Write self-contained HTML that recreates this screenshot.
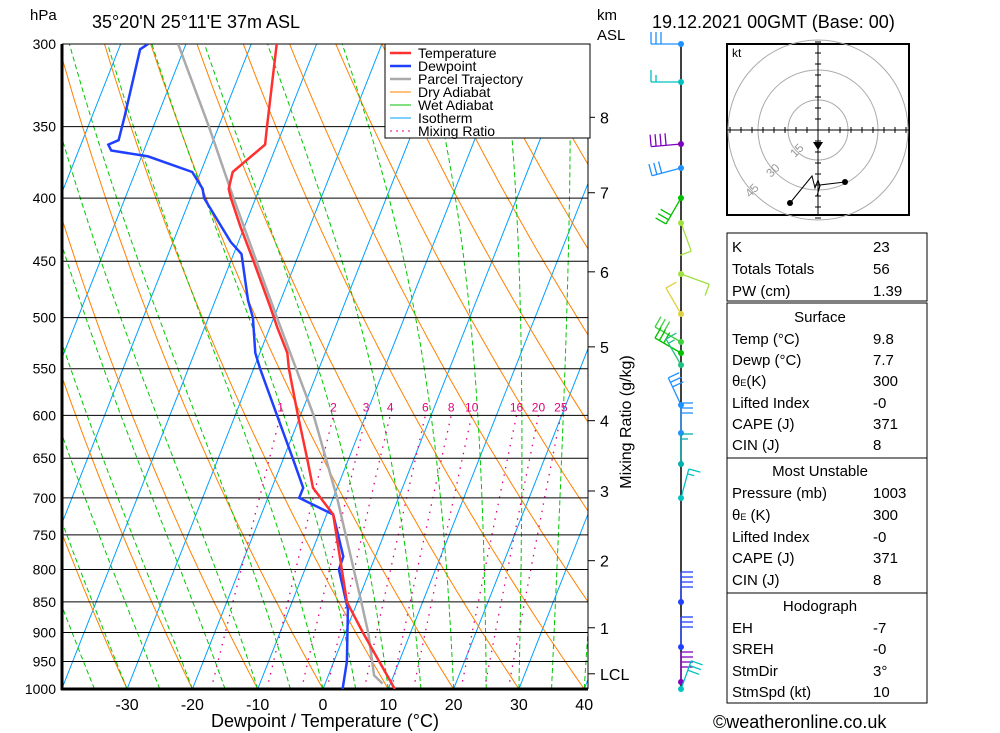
<!DOCTYPE html>
<html><head><meta charset="utf-8"><title>Skew-T</title>
<style>
html,body{margin:0;padding:0;background:#fff;}
svg{display:block;font-family:"Liberation Sans",sans-serif;}
</style></head>
<body>
<svg id="chart" width="1000" height="733" viewBox="0 0 1000 733" xmlns="http://www.w3.org/2000/svg">
<defs><clipPath id="plotclip"><rect x="62" y="44" width="526" height="645"/></clipPath></defs>
<g id="bg" clip-path="url(#plotclip)"></g>
<g id="fg"></g>
<text x="30" y="20" font-size="15">hPa</text>
<text x="92" y="28" font-size="18">35°20'N  25°11'E  37m  ASL</text>
<text x="652" y="28" font-size="18">19.12.2021  00GMT  (Base: 00)</text>
<text x="597" y="20" font-size="15">km</text>
<text x="597" y="40" font-size="15">ASL</text>
<text x="325" y="727" font-size="18" text-anchor="middle">Dewpoint / Temperature (°C)</text>
<text x="631" y="422" font-size="16" text-anchor="middle" transform="rotate(-90 631 422)">Mixing Ratio (g/kg)</text>
<text x="713" y="728" font-size="18">©weatheronline.co.uk</text>
<g>
<rect x="385" y="44" width="205" height="94" fill="#fff" stroke="#000"/>
<g font-size="14">
<line x1="390" y1="53" x2="411" y2="53" stroke="#ff3030" stroke-width="2.5"/><text x="418" y="58">Temperature</text>
<line x1="390" y1="66" x2="411" y2="66" stroke="#2040ff" stroke-width="2.5"/><text x="418" y="71">Dewpoint</text>
<line x1="390" y1="79" x2="411" y2="79" stroke="#aaa" stroke-width="2.5"/><text x="418" y="84">Parcel Trajectory</text>
<line x1="390" y1="92" x2="411" y2="92" stroke="#ff8000"/><text x="418" y="97">Dry Adiabat</text>
<line x1="390" y1="105" x2="411" y2="105" stroke="#00c000"/><text x="418" y="110">Wet Adiabat</text>
<line x1="390" y1="118" x2="411" y2="118" stroke="#00a0ff"/><text x="418" y="123">Isotherm</text>
<line x1="390" y1="131" x2="411" y2="131" stroke="#e0007f" stroke-dasharray="2,4"/><text x="418" y="136">Mixing Ratio</text>
</g></g>
<g>
<rect x="727" y="44" width="182" height="171" fill="#fff" stroke="#000" stroke-width="2"/>
<text x="732" y="57" font-size="12">kt</text>
<g fill="none" stroke="#aaa"><circle cx="818" cy="130" r="30"/><circle cx="818" cy="130" r="60"/><circle cx="818" cy="130" r="90"/></g>
<line x1="727" y1="130" x2="909" y2="130" stroke="#000"/>
<line x1="818" y1="44" x2="818" y2="215" stroke="#000"/>
<g id="hticks"></g>
<g font-size="12" fill="#999"><text x="795" y="158" transform="rotate(-45 795 158)">15</text><text x="771" y="178" transform="rotate(-45 771 178)">30</text><text x="750" y="198" transform="rotate(-45 750 198)">45</text></g>
<polyline points="790,203 812,176 815,188 818,180 820,186 817,196 820,185 845,182" fill="none" stroke="#000"/>
<circle cx="790" cy="203" r="3"/><circle cx="845" cy="182" r="3"/>
<polygon points="813,142 823,142 818,150"/>
</g>
<g font-size="15">
<rect x="727" y="233" width="200" height="68" fill="none" stroke="#000"/>
<rect x="727" y="303" width="200" height="155" fill="none" stroke="#000"/>
<rect x="727" y="458" width="200" height="135" fill="none" stroke="#000"/>
<rect x="727" y="593" width="200" height="110" fill="none" stroke="#000"/>
<text x="732" y="252">K</text><text x="873" y="252">23</text>
<text x="732" y="274">Totals Totals</text><text x="873" y="274">56</text>
<text x="732" y="296">PW (cm)</text><text x="873" y="296">1.39</text>
<text x="820" y="322" text-anchor="middle">Surface</text>
<text x="732" y="344">Temp (°C)</text><text x="873" y="344">9.8</text>
<text x="732" y="365">Dewp (°C)</text><text x="873" y="365">7.7</text>
<text x="732" y="386">θ<tspan font-size="9">E</tspan>(K)</text><text x="873" y="386">300</text>
<text x="732" y="408">Lifted Index</text><text x="873" y="408">-0</text>
<text x="732" y="429">CAPE (J)</text><text x="873" y="429">371</text>
<text x="732" y="450">CIN (J)</text><text x="873" y="450">8</text>
<text x="820" y="476" text-anchor="middle">Most Unstable</text>
<text x="732" y="498">Pressure (mb)</text><text x="873" y="498">1003</text>
<text x="732" y="520">θ<tspan font-size="9">E</tspan> (K)</text><text x="873" y="520">300</text>
<text x="732" y="542">Lifted Index</text><text x="873" y="542">-0</text>
<text x="732" y="563">CAPE (J)</text><text x="873" y="563">371</text>
<text x="732" y="585">CIN (J)</text><text x="873" y="585">8</text>
<text x="820" y="611" text-anchor="middle">Hodograph</text>
<text x="732" y="633">EH</text><text x="873" y="633">-7</text>
<text x="732" y="654">SREH</text><text x="873" y="654">-0</text>
<text x="732" y="676">StmDir</text><text x="873" y="676">3°</text>
<text x="732" y="697">StmSpd (kt)</text><text x="873" y="697">10</text>
</g>
</svg>
<script>
// ---- data ----
const pressureLevels = [300,350,400,450,500,550,600,650,700,750,800,850,900,950,1000];
const tempTicks = [-30,-20,-10,0,10,20,30,40];
const kmLabels = ["8","7","6","5","4","3","2","1","LCL"];
const kmPressures = [344,396,459,528,606,691,787,892,972];
const mixRatios = [1,2,3,4,6,8,10,16,20,25];
const tempP = [1000,900,850,722,687,650,600,550,534,509,490,450,422,400,393,381,362,350,300];
const tempT = [11,2.7,-1.6,-9.0,-13.7,-16.4,-20.4,-24.6,-25.8,-28.9,-31.2,-36.5,-40.6,-43.8,-44.7,-45.1,-41.8,-42.6,-46.1];
const dewP = [1000,950,862,800,781,722,700,687,650,600,550,534,500,484,444,434,400,393,381,370,366,362,359,344,303,300];
const dewT = [3.0,2.0,-1.0,-4.8,-4.9,-9.0,-15.2,-15.2,-18.6,-23.6,-29,-30.7,-33.2,-35,-38.8,-41.2,-47.9,-48.7,-51.3,-59,-65,-65.8,-64.5,-65,-66.7,-65.8];
const parcelP = [990,975,900,850,700,600,500,400,350,300];
const parcelT = [8.8,7.0,3.5,0.6,-9.4,-18,-29.5,-43.4,-51.5,-61.2];
const windY = [44,82,144,168,198,223,274,314,342,353,365,405,433,464,498,602,647,682,689];
const windDir = [270,270,265,255,210,160,110,330,300,300,330,335,0,0,15,0,0,0,20];
const windBarbs = [3,2,4,3,3,1,1,1,3,3,2,3,3,2,2,4,3,4,3];
const windColor = ["#1e90ff","#00c0c0","#8000c0","#1e90ff","#00c000","#a0e040","#a0e040","#e0d040","#40d040","#00c000","#20c080","#1e90ff","#1e90ff","#00b0b0","#00c0c0","#2040ff","#2040ff","#8000c0","#00c0c0"];

// ---- axes ----
const NS="http://www.w3.org/2000/svg";
const Y0=44,Y1=689,PX=6.53,X0=323,SK=0.395;
function yP(p){return Y0+Math.log(p/300)/Math.log(1000/300)*(Y1-Y0);}
function xT(T,p){return X0+PX*T+SK*(Y1-yP(p));}
function mk(tag,attrs,parent){const el=document.createElementNS(NS,tag);for(const k in attrs)el.setAttribute(k,attrs[k]);parent.appendChild(el);return el;}
const bg=document.getElementById('bg'),fg=document.getElementById('fg');
function pathFrom(ps,ts){let d='';for(let i=0;i<ps.length;i++){d+=(i?'L':'M')+xT(ts[i],ps[i]).toFixed(1)+','+yP(ps[i]).toFixed(1);}return d;}

// isotherms
for(let T=-110;T<=40;T+=10){
  const l=mk('line',{x1:xT(T,1000),y1:yP(1000),x2:xT(T,300),y2:yP(300),stroke:'#00a0ff','stroke-width':1},bg);
  
  
}
// dry adiabats
for(let th=-60;th<=120;th+=10){
  const ps=[],ts=[];
  for(let p=1000;p>=300;p-=10){ps.push(p);ts.push((th+273.15)*Math.pow(p/1000,0.286)-273.15);}
  const d1=mk('path',{d:pathFrom(ps,ts),fill:'none',stroke:'#ff8000','stroke-width':1},bg);
  
  
}
// wet adiabats
function esat(T){return 6.112*Math.exp(17.67*T/(T+243.5));}
for(let T0=-40;T0<=40;T0+=5){
  const ps=[],ts=[];let T=T0;
  for(let p=1000;p>=300;p-=5){
    ps.push(p);ts.push(T);
    const Tk=T+273.15,rs=0.622*esat(T)/(p-esat(T));
    const num=287*Tk+2.5e6*rs,den=1005+2.5e6*2.5e6*rs*0.622/(287*Tk*Tk);
    T-=num/(p*den)*5;
  }
  const w1=mk('path',{d:pathFrom(ps,ts),fill:'none',stroke:'#00c800','stroke-width':1,'stroke-dasharray':'5,3'},bg);
  
  
}
// mixing ratio
for(let i=0;i<mixRatios.length;i++){
  const w=mixRatios[i],ps=[],ts=[];
  for(let p=1000;p>=600;p-=10){const ev=w*p/(622+w);const lg=Math.log(ev/6.112);ps.push(p);ts.push(243.5*lg/(17.67-lg));}
  const m1=mk('path',{d:pathFrom(ps,ts),fill:'none',stroke:'#e0007f','stroke-width':1.3,'stroke-dasharray':'1.5,6'},bg);
  
  
  const t=mk('text',{x:xT(ts[ts.length-1],600),y:yP(600)-4,'font-size':12,fill:'#e0007f','text-anchor':'middle'},fg);
  t.textContent=w;
  
  
}
// isobars + labels
pressureLevels.forEach(p=>{
  const l=mk('line',{x1:62,y1:yP(p),x2:588,y2:yP(p),stroke:'#000','stroke-width':1},fg);
  
  
  const t=mk('text',{x:56,y:yP(p)+5,'font-size':14,'text-anchor':'end'},fg);
  t.textContent=p;
  
  
});
mk('line',{x1:62,y1:44,x2:62,y2:690,stroke:'#000','stroke-width':3},fg);
mk('line',{x1:61,y1:689,x2:588,y2:689,stroke:'#000','stroke-width':3},fg);
tempTicks.forEach(T=>{
  const t=mk('text',{x:xT(T,1000),y:710,'font-size':16,'text-anchor':'middle'},fg);
  t.textContent=T;
  
  
});
// km axis
mk('line',{x1:588,y1:44,x2:588,y2:689,stroke:'#000','stroke-width':1},fg);
kmLabels.forEach((k,i)=>{
  const y=yP(kmPressures[i]);
  mk('line',{x1:588,y1:y,x2:595,y2:y,stroke:'#000'},fg);
  const t=mk('text',{x:600,y:y+6,'font-size':16},fg);
  t.textContent=k;
  
  
});
// profiles
const fgc=mk('g',{'clip-path':'url(#plotclip)'},fg);
const pp=mk('path',{d:pathFrom(parcelP,parcelT),fill:'none',stroke:'#aaa','stroke-width':2.5},fgc);


const dp=mk('path',{d:pathFrom(dewP,dewT),fill:'none',stroke:'#2040ff','stroke-width':2.5},fgc);


const tp=mk('path',{d:pathFrom(tempP,tempT),fill:'none',stroke:'#ff3030','stroke-width':2.5},fgc);


// wind barbs
mk('line',{x1:681,y1:44,x2:681,y2:689,stroke:'#000','stroke-width':1.5},fg);
windY.forEach((y,i)=>{
  const g=mk('g',{stroke:windColor[i],fill:'none','stroke-width':1.3},fg);
  
  
  const a=windDir[i]*Math.PI/180,dx=Math.sin(a),dy=-Math.cos(a),L=30;
  const ex=681+dx*L,ey=y+dy*L;
  mk('line',{x1:681,y1:y,x2:ex,y2:ey},g);
  for(let k=0;k<windBarbs[i];k++){
    const bx=ex-dx*k*5,by=ey-dy*k*5,len=(k==windBarbs[i]-1&&windBarbs[i]==2)?7:12;
    mk('line',{x1:bx,y1:by,x2:bx+(-dy)*len,y2:by+dx*len},g);
  }
  mk('circle',{cx:681,cy:y,r:3,fill:windColor[i],stroke:'none'},g);
});
// hodograph ticks
const ht=document.getElementById('hticks');
for(let k=-8;k<=8;k++){if(!k)continue;
  mk('line',{x1:818+k*11,y1:127,x2:818+k*11,y2:133,stroke:'#000'},ht);
  mk('line',{x1:815,y1:130+k*11,x2:821,y2:130+k*11,stroke:'#000'},ht);}
</script>
</body></html>
